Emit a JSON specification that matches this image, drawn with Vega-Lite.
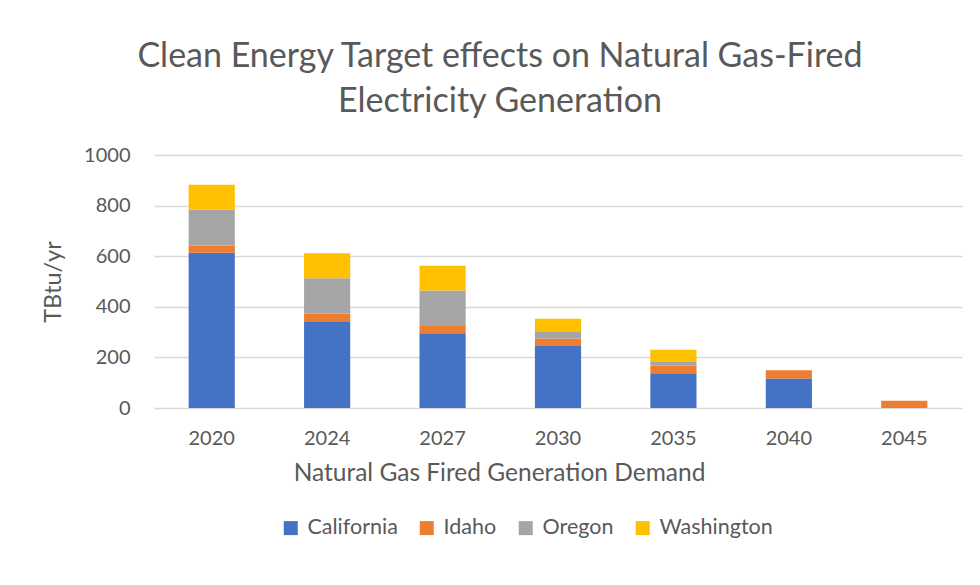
{
  "$schema": "https://vega.github.io/schema/vega-lite/v6.json",
  "autosize": "none",
  "width": 808,
  "height": 253,
  "padding": {"left": 154, "top": 155, "right": 18, "bottom": 177},
  "background": "white",
  "config": {
    "font": "Lato",
    "view": {"stroke": null},
    "text": {"color": "#595959"}
  },
  "title": {
    "text": ["Clean Energy Target effects on Natural Gas-Fired", "Electricity Generation"],
    "fontSize": 34,
    "font": "Lato",
    "fontWeight": "normal",
    "color": "#595959",
    "anchor": "middle",
    "frame": "group",
    "dx": -58,
    "lineHeight": 45,
    "offset": 26
  },
  "data": {
    "values": [
      {"year": "2020", "state": "California", "value": 614},
      {"year": "2020", "state": "Idaho", "value": 28},
      {"year": "2020", "state": "Oregon", "value": 142},
      {"year": "2020", "state": "Washington", "value": 98},
      {"year": "2024", "state": "California", "value": 343},
      {"year": "2024", "state": "Idaho", "value": 31},
      {"year": "2024", "state": "Oregon", "value": 139},
      {"year": "2024", "state": "Washington", "value": 99},
      {"year": "2027", "state": "California", "value": 295},
      {"year": "2027", "state": "Idaho", "value": 29},
      {"year": "2027", "state": "Oregon", "value": 140},
      {"year": "2027", "state": "Washington", "value": 98},
      {"year": "2030", "state": "California", "value": 245},
      {"year": "2030", "state": "Idaho", "value": 30},
      {"year": "2030", "state": "Oregon", "value": 28},
      {"year": "2030", "state": "Washington", "value": 50},
      {"year": "2035", "state": "California", "value": 137},
      {"year": "2035", "state": "Idaho", "value": 30},
      {"year": "2035", "state": "Oregon", "value": 15},
      {"year": "2035", "state": "Washington", "value": 48},
      {"year": "2040", "state": "California", "value": 117},
      {"year": "2040", "state": "Idaho", "value": 32},
      {"year": "2045", "state": "Idaho", "value": 29}
    ]
  },
  "mark": {"type": "bar"},
  "encoding": {
    "x": {
      "field": "year",
      "type": "ordinal",
      "scale": {"paddingInner": 0.6, "paddingOuter": 0.3},
      "axis": {
        "title": "Natural Gas Fired Generation Demand",
        "titleFontSize": 24.5,
        "titleFontWeight": "normal",
        "titleColor": "#595959",
        "titleFont": "Lato",
        "titlePadding": 13,
        "titleX": 345,
        "labelAngle": 0,
        "labelFontSize": 20,
        "labelColor": "#595959",
        "labelPadding": 20,
        "ticks": false,
        "domain": false
      }
    },
    "y": {
      "field": "value",
      "type": "quantitative",
      "scale": {"domain": [0, 1000]},
      "axis": {
        "values": [0, 200, 400, 600, 800, 1000],
        "format": "d",
        "title": "TBtu/yr",
        "titleFontSize": 23.5,
        "titleFontWeight": "normal",
        "titleColor": "#595959",
        "titlePadding": 18,
        "labelFontSize": 20,
        "labelColor": "#595959",
        "labelPadding": 24,
        "ticks": false,
        "domain": false,
        "gridColor": "#d9d9d9",
        "gridWidth": 1.5
      }
    },
    "color": {
      "field": "state",
      "type": "nominal",
      "scale": {
        "domain": ["California", "Idaho", "Oregon", "Washington"],
        "range": ["#4472C4", "#ED7D31", "#A5A5A5", "#FFC000"]
      },
      "legend": {
        "title": null,
        "orient": "none",
        "legendX": 126,
        "legendY": 362,
        "direction": "horizontal",
        "symbolType": "square",
        "symbolSize": 196,
        "symbolStrokeWidth": 0,
        "labelFontSize": 21.5,
        "labelColor": "#595959",
        "labelOffset": 6,
        "columnPadding": 18
      }
    },
    "order": {"field": "state", "sort": "ascending"}
  }
}
